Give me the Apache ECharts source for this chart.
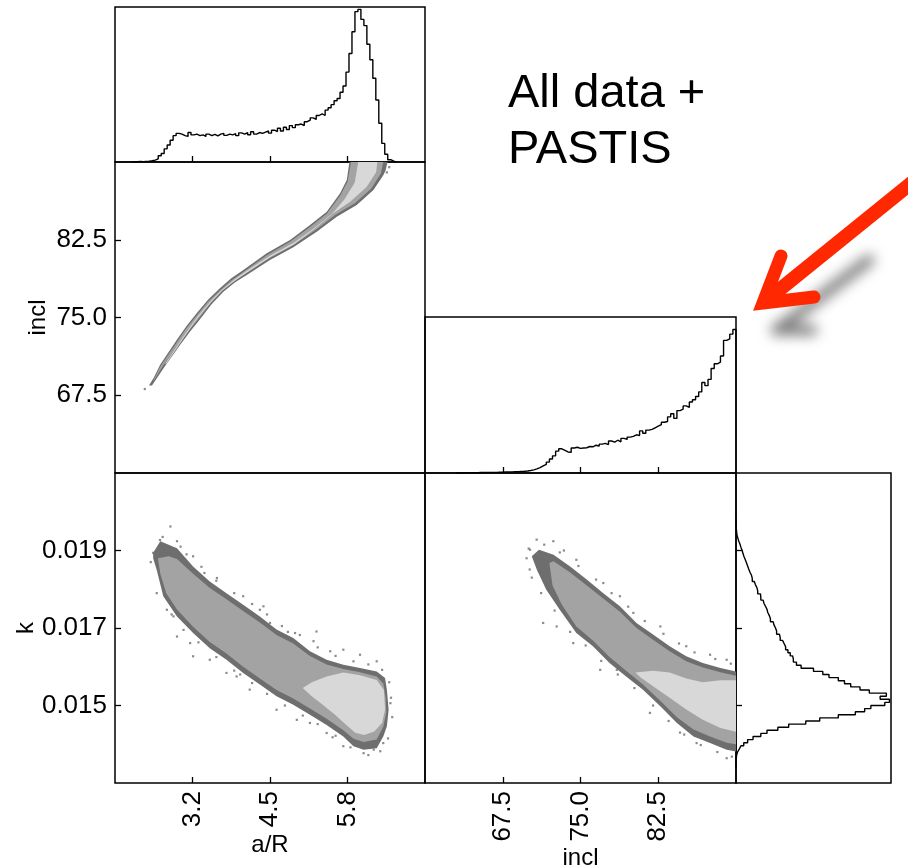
<!DOCTYPE html>
<html><head><meta charset="utf-8">
<script src="https://cdn.jsdelivr.net/npm/echarts@6/dist/echarts.min.js"></script>
<style>html,body{margin:0;padding:0;background:#fff}#c{width:908px;height:868px}</style>
</head><body><div id="c"></div>
<script>
// ---- tick values ----
const aRTicks = [3.2, 4.5, 5.8];
const inclTicks = [67.5, 75.0, 82.5];
const kTicks = [0.015, 0.017, 0.019];

// ---- 1D histograms (bin start, bin width, heights as fraction of panel) ----
const aRBinStart = 2.175, aRBinWidth = 0.05;
const aRHist = [0.0, 0.002, 0.003, 0.002, 0.004, 0.005, 0.008, 0.012, 0.02, 0.04,
  0.055, 0.085, 0.11, 0.14, 0.17, 0.185, 0.18, 0.17, 0.165, 0.19,
  0.175, 0.18, 0.17, 0.175, 0.165, 0.18, 0.17, 0.178, 0.168, 0.18,
  0.185, 0.172, 0.18, 0.175, 0.183, 0.17, 0.188, 0.18, 0.19, 0.176,
  0.195, 0.18, 0.19, 0.185, 0.193, 0.2, 0.186, 0.205, 0.196, 0.218,
  0.2, 0.224, 0.21, 0.235, 0.222, 0.24, 0.245, 0.235, 0.26, 0.27,
  0.285, 0.275, 0.3, 0.31, 0.3, 0.335, 0.35, 0.37, 0.395, 0.41,
  0.45, 0.49, 0.58, 0.7, 0.84, 0.97, 0.985, 0.92, 0.88, 0.76,
  0.66, 0.54, 0.4, 0.25, 0.12, 0.05, 0.015, 0.005, 0.0];

const inclBinStart = 63.0, inclBinWidth = 0.3;
const inclHist = [0, 0, 0.001, 0.001, 0.002, 0.002, 0.002, 0.003, 0.003, 0.003,
  0.003, 0.004, 0.004, 0.005, 0.005, 0.006, 0.006, 0.007, 0.008, 0.009,
  0.010, 0.011, 0.013, 0.016, 0.02, 0.026, 0.034, 0.045, 0.055, 0.07,
  0.09, 0.11, 0.14, 0.155, 0.145, 0.135, 0.132, 0.16, 0.165, 0.158,
  0.16, 0.162, 0.17, 0.168, 0.178, 0.172, 0.185, 0.19, 0.182, 0.205,
  0.198, 0.21, 0.2, 0.222, 0.215, 0.23, 0.235, 0.245, 0.24, 0.27,
  0.255, 0.275, 0.28, 0.29, 0.3, 0.31, 0.325, 0.33, 0.36, 0.38,
  0.35, 0.4, 0.41, 0.43, 0.42, 0.455, 0.47, 0.49, 0.52, 0.58,
  0.56, 0.6, 0.67, 0.7, 0.71, 0.75, 0.85, 0.86, 0.89, 0.92];

const kBinStart = 0.0134, kBinWidth = 0.00008;
const kHist = [0.0, 0.0, 0.002, 0.004, 0.01, 0.022, 0.032, 0.05, 0.075, 0.11,
  0.16, 0.2, 0.27, 0.34, 0.45, 0.54, 0.66, 0.77, 0.83, 0.87,
  0.96, 0.99, 0.93, 0.97, 0.86, 0.8, 0.74, 0.7, 0.66, 0.6,
  0.56, 0.5, 0.42, 0.39, 0.37, 0.365, 0.35, 0.335, 0.32, 0.31,
  0.3, 0.285, 0.28, 0.262, 0.255, 0.245, 0.24, 0.222, 0.215, 0.205,
  0.2, 0.19, 0.18, 0.175, 0.16, 0.158, 0.14, 0.135, 0.125, 0.118,
  0.105, 0.1, 0.09, 0.082, 0.075, 0.068, 0.06, 0.052, 0.045, 0.04,
  0.032, 0.026, 0.018, 0.012, 0.006, 0.004, 0.002, 0.001, 0.001, 0.0];

// ---- 2D density contour regions (outer / middle / inner level) ----
// incl vs a/R
const inclVsAR_outer = [[2.47,68.45],[2.55,69.2],[2.655,70.42],[2.935,72.83],[3.10,74.18],[3.27,75.40],[3.46,76.72],[3.66,77.81],[3.85,78.78],[4.053,79.58],[4.445,81.19],[4.836,82.48],[5.172,83.92],[5.452,85.21],[5.676,86.98],[5.788,88.26],[5.833,90],[6.47,90],[6.44,89.2],[6.403,88.75],[6.235,87.30],[5.955,85.85],[5.62,84.73],[5.284,83.28],[4.892,81.77],[4.5,80.55],[4.11,79.10],[3.91,78.38],[3.718,77.49],[3.52,76.28],[3.326,74.83],[3.16,73.66],[2.991,72.35],[2.711,70.09],[2.52,68.45]];
const inclVsAR_mid = [[2.55,69.0],[2.655,70.2],[2.935,72.6],[3.10,73.98],[3.27,75.2],[3.46,76.52],[3.66,77.6],[3.85,78.58],[4.053,79.4],[4.445,81.0],[4.836,82.3],[5.172,83.72],[5.452,85.0],[5.676,86.75],[5.80,88.1],[5.86,90],[6.40,90],[6.36,88.9],[6.20,87.45],[5.93,86.05],[5.60,84.92],[5.27,83.46],[4.88,81.95],[4.49,80.72],[4.10,79.27],[3.90,78.55],[3.71,77.66],[3.51,76.45],[3.32,75.03],[3.15,73.85],[2.98,72.55],[2.70,70.3],[2.55,68.9]];
const inclVsAR_inner = [[2.75,70.6],[3.0,72.75],[3.15,74.0],[3.3,75.2],[3.5,76.55],[3.7,77.7],[3.9,78.65],[4.1,79.45],[4.5,80.95],[4.9,82.2],[5.25,83.65],[5.55,85.05],[5.75,86.4],[5.92,88.0],[5.98,90],[6.30,90],[6.28,89.0],[6.12,87.6],[5.85,86.2],[5.55,85.0],[5.25,83.55],[4.9,82.05],[4.5,80.8],[4.1,79.3],[3.9,78.5],[3.7,77.6],[3.5,76.4],[3.3,75.05],[3.15,73.85],[3.0,72.6],[2.75,70.45]];
// k vs a/R
const kVsAR_outer = [[2.54,0.01894],[2.66,0.01924],[2.80,0.01915],[2.94,0.01906],[3.21,0.01859],[3.49,0.01820],[3.77,0.01790],[4.05,0.01760],[4.33,0.01730],[4.61,0.01696],[4.89,0.01674],[5.17,0.01640],[5.45,0.01618],[5.73,0.01605],[6.01,0.01597],[6.29,0.01588],[6.43,0.01571],[6.46,0.01541],[6.49,0.01489],[6.46,0.01446],[6.40,0.01420],[6.29,0.01390],[6.07,0.01386],[5.90,0.01395],[5.73,0.01420],[5.45,0.01450],[5.17,0.01476],[4.89,0.01502],[4.61,0.01524],[4.33,0.01554],[4.05,0.01584],[3.77,0.01618],[3.49,0.01648],[3.21,0.01687],[2.94,0.01730],[2.71,0.01782],[2.60,0.01850],[2.54,0.01880]];
const kVsAR_mid = [[2.62,0.01880],[2.80,0.01885],[2.94,0.01878],[3.21,0.01840],[3.49,0.01803],[3.77,0.01774],[4.05,0.01744],[4.33,0.01714],[4.61,0.01682],[4.89,0.01660],[5.17,0.01628],[5.45,0.01606],[5.73,0.01594],[6.01,0.01586],[6.29,0.01575],[6.40,0.01557],[6.44,0.01520],[6.45,0.01482],[6.40,0.01445],[6.29,0.01412],[6.07,0.01406],[5.90,0.01414],[5.73,0.01436],[5.45,0.01466],[5.17,0.01492],[4.89,0.01518],[4.61,0.01540],[4.33,0.01570],[4.05,0.01600],[3.77,0.01634],[3.49,0.01664],[3.21,0.01703],[2.94,0.01748],[2.76,0.01790],[2.66,0.01840]];
const kVsAR_inner = [[5.05,0.01545],[5.20,0.01560],[5.45,0.01575],[5.73,0.01585],[6.01,0.01578],[6.29,0.01566],[6.41,0.01540],[6.43,0.01490],[6.38,0.01455],[6.25,0.01433],[6.08,0.01424],[5.93,0.01430],[5.78,0.01450],[5.60,0.01475],[5.40,0.01500],[5.20,0.01524]];
// k vs incl
const kVsIncl_outer = [[70.3,0.01885],[71.0,0.01902],[72.4,0.01889],[74.0,0.01859],[75.6,0.01825],[77.2,0.01790],[78.8,0.01756],[80.4,0.01713],[82.0,0.01683],[83.6,0.01653],[85.2,0.01627],[86.8,0.01610],[88.5,0.01597],[90,0.01588],[90,0.01381],[89.1,0.01386],[87.5,0.01403],[85.9,0.01420],[84.3,0.01455],[82.7,0.01498],[81.0,0.01541],[79.4,0.01575],[77.8,0.01610],[76.2,0.01653],[74.6,0.01687],[73.0,0.01747],[71.7,0.01799],[70.8,0.01850]];
const kVsIncl_mid = [[72.0,0.01868],[72.4,0.01872],[74.0,0.01843],[75.6,0.01810],[77.2,0.01776],[78.8,0.01742],[80.4,0.01700],[82.0,0.01670],[83.6,0.01640],[85.2,0.01614],[86.8,0.01598],[88.5,0.01586],[90,0.01577],[90,0.01400],[89.1,0.01404],[87.5,0.01420],[85.9,0.01438],[84.3,0.01470],[82.7,0.01512],[81.0,0.01555],[79.4,0.01590],[77.8,0.01625],[76.2,0.01668],[74.6,0.01704],[73.2,0.01760],[72.3,0.01810]];
const kVsIncl_inner = [[80.3,0.01585],[82.0,0.01590],[83.6,0.01585],[85.2,0.01570],[86.8,0.01560],[88.5,0.01565],[90,0.01565],[90,0.01432],[88.5,0.01442],[86.8,0.01463],[85.2,0.01490],[83.6,0.01520],[82.0,0.01550],[80.8,0.01572]];

// ---- sparse outlying samples ----
const inclVsAR_sparse = [[2.40,68.1],[6.50,89.5],[6.46,89.0]];
const kVsAR_sparse = [[2.83,0.01962],[2.54,0.01894],[2.655,0.01927],[2.71,0.01798],[2.88,0.0173],[3.16,0.01661],[3.49,0.01618],[3.94,0.01575],[4.39,0.01756],[4.50,0.01713],[4.92,0.01687],[5.23,0.01666],[5.51,0.0164],[6.01,0.01631],[6.29,0.01614],[4.95,0.01463],[5.17,0.01455],[5.45,0.01429],[5.73,0.01395],[6.07,0.01377],[6.24,0.01386],[6.52,0.01506],[6.40,0.01403],[4.61,0.01489],[4.16,0.01541],[3.77,0.01584],[3.21,0.01627],[2.94,0.01678],[2.77,0.01747],[5.28,0.01691],[5.73,0.01644],[4.33,0.01747],[4.05,0.01782],[3.61,0.01829],[3.21,0.01885],[2.94,0.01924],[2.50,0.01870],[6.55,0.01470],
  [2.70,0.01935],[3.00,0.01910],[3.10,0.01890],[3.35,0.01858],[3.60,0.01822],[3.90,0.01790],[4.20,0.01762],[4.45,0.01735],[4.70,0.01705],[5.00,0.01682],[5.30,0.01650],[5.60,0.01628],[5.90,0.01614],[6.15,0.01606],[6.38,0.01592],[6.50,0.01560],[6.53,0.01520],[3.40,0.01842],[4.80,0.01690],
  [2.60,0.01790],[2.85,0.01735],[3.05,0.01695],[3.30,0.01663],[3.60,0.01625],[3.90,0.01590],[4.20,0.01558],[4.45,0.01530],[4.75,0.01500],[5.05,0.01474],[5.30,0.01452],[5.60,0.01422],[5.85,0.01392],[6.15,0.01372],[6.35,0.01382],[6.48,0.01415],[4.00,0.01580],[5.55,0.01418]];
const kVsIncl_sparse = [[70.13,0.01902],[70.77,0.01928],[72.38,0.01924],[71.4,0.01713],[70.1,0.01851],[72.7,0.01704],[74.3,0.01661],[76.9,0.01592],[78.5,0.01592],[81.7,0.01481],[84.6,0.0143],[86.2,0.01403],[89.1,0.01364],[74.6,0.01876],[77.2,0.01816],[80.1,0.01739],[82.7,0.01704],[85.2,0.01653],[87.5,0.01631],[89.1,0.01618],[78.8,0.01782],[69.8,0.01880],[73.4,0.01900],
  [70.0,0.01905],[71.5,0.01915],[73.0,0.01895],[74.8,0.01860],[76.5,0.01825],[78.0,0.01790],[79.6,0.01755],[81.2,0.01718],[83.0,0.01685],[84.5,0.01660],[86.0,0.01637],[88.0,0.01620],[89.5,0.01608],
  [70.3,0.01830],[71.2,0.01790],[72.5,0.01745],[74.0,0.01690],[75.5,0.01655],[77.0,0.01615],[78.6,0.01580],[80.2,0.01545],[82.0,0.01500],[83.5,0.01460],[85.0,0.01425],[86.6,0.01398],[88.2,0.01380],[89.6,0.01368]];

const levelColors = ['#6e6e6e', '#a3a3a3', '#d8d8d8'];
const FONT = "'Liberation Sans', Arial, Helvetica, sans-serif";

function stairs(start, width, vals, vertical) {
  const pts = [];
  const p = (x, v) => pts.push(vertical ? [v, x] : [x, v]);
  p(start, 0);
  vals.forEach((v, i) => { p(start + i * width, v); p(start + (i + 1) * width, v); });
  p(start + vals.length * width, 0);
  return pts;
}

function polySeries(xi, yi, polys) {
  return {
    type: 'custom', xAxisIndex: xi, yAxisIndex: yi, silent: true, clip: true,
    data: polys.map((p, i) => [i]),
    renderItem: (params, api) => {
      const poly = polys[params.dataIndex];
      return { type: 'polygon', shape: { points: poly.map(q => api.coord(q)) },
        style: { fill: levelColors[params.dataIndex] } };
    }
  };
}
function sparseSeries(xi, yi, pts) {
  return { type: 'scatter', xAxisIndex: xi, yAxisIndex: yi, silent: true, data: pts,
    symbol: 'rect', symbolSize: 2.2, itemStyle: { color: '#6e6e6e' } };
}
function histSeries(xi, yi, pts) {
  return { type: 'line', xAxisIndex: xi, yAxisIndex: yi, silent: true, data: pts,
    showSymbol: false, symbol: 'none', lineStyle: { color: '#000', width: 1.4 } };
}

const tickStyle = { color: '#000', width: 1.3 };
function axis(gi, min, max, opts) {
  const o = opts || {};
  return {
    type: 'value', gridIndex: gi, min, max, splitLine: { show: false },
    axisLine: { show: false },
    axisTick: o.ticks ? { show: true, inside: true, length: 6, customValues: o.ticks, lineStyle: tickStyle } : { show: false },
    axisLabel: o.labels ? { show: true, customValues: o.ticks, formatter: o.fmt, rotate: o.rotate || 0,
      margin: 8, color: '#000', fontSize: 26, fontFamily: FONT } : { show: false },
    name: o.name || '', nameLocation: 'middle', nameGap: o.nameGap || 0,
    nameTextStyle: { color: '#000', fontSize: 24, fontFamily: FONT }
  };
}
const f1 = v => v.toFixed(1), f3 = v => v.toFixed(3);

const gridBase = { show: true, borderColor: '#000', borderWidth: 1.5, backgroundColor: 'transparent', containLabel: false, outerBoundsMode: 'none' };
const option = {
  animation: false,
  backgroundColor: '#fff',
  grid: [
    Object.assign({ left: 115, top: 7, width: 310, height: 155 }, gridBase),
    Object.assign({ left: 115, top: 162, width: 310, height: 311 }, gridBase),
    Object.assign({ left: 425, top: 317, width: 311, height: 156 }, gridBase),
    Object.assign({ left: 115, top: 473, width: 310, height: 310 }, gridBase),
    Object.assign({ left: 425, top: 473, width: 311, height: 310 }, gridBase),
    Object.assign({ left: 736, top: 473, width: 155, height: 310 }, gridBase)
  ],
  xAxis: [
    axis(0, 1.9, 7.1, { ticks: aRTicks }),
    axis(1, 1.9, 7.1),
    axis(2, 60, 90, { ticks: inclTicks }),
    axis(3, 1.9, 7.1, { ticks: aRTicks, labels: true, fmt: f1, rotate: 90, name: 'a/R', nameGap: 50 }),
    axis(4, 60, 90, { ticks: inclTicks, labels: true, fmt: f1, rotate: 90, name: 'incl', nameGap: 63 }),
    axis(5, 0, 1)
  ],
  yAxis: [
    axis(0, 0, 1),
    axis(1, 60, 90, { ticks: inclTicks, labels: true, fmt: f1, name: 'incl', nameGap: 65 }),
    axis(2, 0, 1),
    axis(3, 0.013, 0.021, { ticks: kTicks, labels: true, fmt: f3, name: 'k', nameGap: 65 }),
    axis(4, 0.013, 0.021),
    axis(5, 0.013, 0.021, { ticks: kTicks })
  ],
  series: [
    histSeries(0, 0, stairs(aRBinStart, aRBinWidth, aRHist, false)),
    polySeries(1, 1, [inclVsAR_outer, inclVsAR_mid, inclVsAR_inner]),
    sparseSeries(1, 1, inclVsAR_sparse),
    histSeries(2, 2, stairs(inclBinStart, inclBinWidth, inclHist, false)),
    polySeries(3, 3, [kVsAR_outer, kVsAR_mid, kVsAR_inner]),
    sparseSeries(3, 3, kVsAR_sparse),
    polySeries(4, 4, [kVsIncl_outer, kVsIncl_mid, kVsIncl_inner]),
    sparseSeries(4, 4, kVsIncl_sparse),
    histSeries(5, 5, stairs(kBinStart, kBinWidth, kHist, true))
  ],
  graphic: [
    { type: 'text', x: 508, y: 71, style: { text: 'All data +', font: '47px ' + FONT, fill: '#000', verticalAlign: 'top' } },
    { type: 'text', x: 508, y: 127, style: { text: 'PASTIS', font: '47px ' + FONT, fill: '#000', verticalAlign: 'top' } },
    // blurred shadow of the arrow (shape kept off-canvas, only its shadow shows)
    { type: 'polyline', silent: true, shape: { points: [[869 - 3000, 260], [790 - 3000, 320], [776 - 3000, 330], [812 - 3000, 330]] },
      style: { stroke: '#000', lineWidth: 11, lineCap: 'round', lineJoin: 'round', fill: null,
        shadowColor: 'rgba(0,0,0,0.5)', shadowBlur: 13, shadowOffsetX: 3000, shadowOffsetY: 0 } },
    { type: 'line', silent: true, shape: { x1: 763, y1: 303, x2: 925, y2: 172 },
      style: { stroke: '#ff2800', lineWidth: 14, lineCap: 'butt' } },
    { type: 'polyline', silent: true, shape: { points: [[781, 256], [763, 303], [814, 297]] },
      style: { stroke: '#ff2800', lineWidth: 13, lineCap: 'round', lineJoin: 'miter', fill: null } }
  ]
};
const chart = echarts.init(document.getElementById('c'), null, { renderer: 'canvas' });
chart.setOption(option);
</script>
</body></html>
